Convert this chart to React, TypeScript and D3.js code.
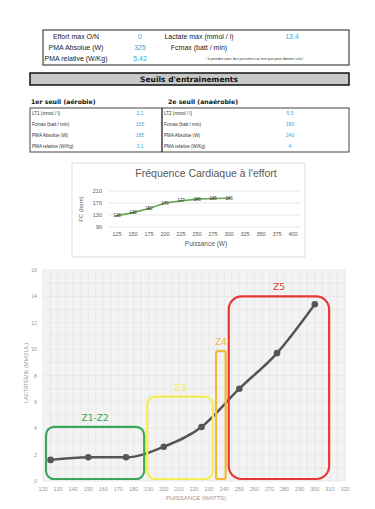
import React, { useEffect, useRef } from 'react'
import * as d3 from 'd3'

// --- summary table
const summaryLeft = ['Effort max O/N', 'PMA Absolue (W)', 'PMA relative (W/Kg)']
const summaryLeftVals = ['0', '325', '5.42']
const summaryRight = ['Lactate max (mmol / l)', 'Fcmax (batt / min)']
const summaryRightVals = ['13.4', '']
const summaryNote = "! à prendre avec des pincettes car test pas pour diminer cela !"

// --- thresholds
const seuil1Labels = ['LT1 (mmol / l)', 'Fcmax (batt / min)', 'PMA Absolue (W)', 'PMA relative (W/Kg)']
const seuil1Vals = ['2.1', '155', '185', '3.1']
const seuil2Labels = ['LT2 (mmol / l)', 'Fcmax (batt / min)', 'PMA Absolue (W)', 'PMA relative (W/Kg)']
const seuil2Vals = ['5.5', '180', '240', '4']

// --- heart rate chart
const hrCategories = ['125', '150', '175', '200', '225', '250', '275', '300', '325', '350', '375', '400']
const hrValues = [128, 138, 152, 170, 177, 183, 185, 186]
const hrTicks = [90, 130, 170, 210]

// --- lactate chart
const lacPower = [125, 150, 175, 200, 225, 250, 275, 300]
const lacValues = [1.6, 1.8, 1.8, 2.6, 4.1, 7.0, 9.7, 13.4]
const lacXTicks = d3.range(120, 321, 10)
const lacYTicks = [0, 2, 4, 6, 8, 10, 12, 14, 16]
const zones = [
  { name: 'Z1-Z2', x0: 122, x1: 187, top: 4.1, color: '#3aa857', r: 8 },
  { name: 'Z3', x0: 189, x1: 232.5, top: 6.4, color: '#f3ee55', r: 8 },
  { name: 'Z4', x0: 234.6, x1: 241, top: 9.85, color: '#f4b935', r: 2 },
  { name: 'Z5', x0: 243, x1: 309.5, top: 14, color: '#e53935', r: 13 },
]

const W = 375
const H = 509
const TF = 'Liberation Sans, Arial, sans-serif'

export default function App() {
  const ref = useRef<SVGSVGElement>(null)

  useEffect(() => {
    const svg = d3.select(ref.current)
    svg.selectAll('*').remove()

    // ---------- summary table
    const top = svg.append('g')
    top.append('rect').attr('x', 43).attr('y', 30).attr('width', 306).attr('height', 35)
      .attr('fill', 'none').attr('stroke', '#444').attr('stroke-width', 1.2)
    const rowY = d3.scalePoint<number>().domain([0, 1, 2]).range([36, 58])
    summaryLeft.forEach((t, i) => {
      top.append('text').attr('x', 76).attr('y', rowY(i)! + 2.5).attr('text-anchor', 'middle')
        .attr('font-family', TF).attr('font-size', 7).attr('fill', '#222').text(t)
      top.append('text').attr('x', 140).attr('y', rowY(i)! + 2.5).attr('text-anchor', 'middle')
        .attr('font-family', TF).attr('font-size', 7).attr('fill', '#3aa7dc').text(summaryLeftVals[i])
    })
    summaryRight.forEach((t, i) => {
      top.append('text').attr('x', 199).attr('y', rowY(i)! + 2.5).attr('text-anchor', 'middle')
        .attr('font-family', TF).attr('font-size', 7).attr('fill', '#222').text(t)
      top.append('text').attr('x', 292).attr('y', rowY(i)! + 2.5).attr('text-anchor', 'middle')
        .attr('font-family', TF).attr('font-size', 7).attr('fill', '#3aa7dc').text(summaryRightVals[i])
    })
    top.append('text').attr('x', 255).attr('y', rowY(2)! + 1.5).attr('text-anchor', 'middle')
      .attr('font-family', TF).attr('font-size', 3.6).attr('fill', '#333').text(summaryNote)

    // ---------- thresholds header
    top.append('rect').attr('x', 30).attr('y', 73).attr('width', 319).attr('height', 12)
      .attr('fill', '#c8c8c8').attr('stroke', '#111').attr('stroke-width', 1.5)
    top.append('text').attr('x', 189).attr('y', 82).attr('text-anchor', 'middle')
      .attr('font-family', 'DejaVu Sans, sans-serif').attr('font-weight', 'bold').attr('font-size', 7.5)
      .attr('fill', '#111').text("Seuils d'entrainements")
    top.append('text').attr('x', 31).attr('y', 104)
      .attr('font-family', 'DejaVu Sans, sans-serif').attr('font-weight', 'bold').attr('font-size', 6.2)
      .attr('fill', '#111').text('1er seuil (aérobie)')
    top.append('text').attr('x', 168).attr('y', 104)
      .attr('font-family', 'DejaVu Sans, sans-serif').attr('font-weight', 'bold').attr('font-size', 6.2)
      .attr('fill', '#111').text('2e seuil (anaérobie)')

    top.append('rect').attr('x', 30).attr('y', 108).attr('width', 319).attr('height', 44)
      .attr('fill', 'none').attr('stroke', '#444').attr('stroke-width', 1)
    top.append('line').attr('x1', 162).attr('x2', 162).attr('y1', 108).attr('y2', 152)
      .attr('stroke', '#222').attr('stroke-width', 1.3)
    const sRow = d3.scalePoint<number>().domain([0, 1, 2, 3]).range([113, 146])
    const drawSeuil = (labels: string[], vals: string[], lx: number, vx: number) => {
      labels.forEach((t, i) => {
        top.append('text').attr('x', lx).attr('y', sRow(i)! + 2).attr('font-family', TF)
          .attr('font-size', 4.6).attr('fill', '#333').text(t)
        top.append('text').attr('x', vx).attr('y', sRow(i)! + 2).attr('text-anchor', 'middle')
          .attr('font-family', TF).attr('font-size', 5).attr('fill', '#3aa7dc').text(vals[i])
      })
    }
    drawSeuil(seuil1Labels, seuil1Vals, 32, 140)
    drawSeuil(seuil2Labels, seuil2Vals, 164, 290)

    // ---------- heart rate chart
    const hr = svg.append('g')
    hr.append('rect').attr('x', 72).attr('y', 163).attr('width', 233).attr('height', 94)
      .attr('fill', '#fff').attr('stroke', '#d9d9d9').attr('stroke-width', 0.8)
    hr.append('text').attr('x', 206).attr('y', 177).attr('text-anchor', 'middle')
      .attr('font-family', TF).attr('font-size', 10.5).attr('fill', '#595959')
      .text("Fréquence Cardiaque à l'effort")
    const hx = d3.scalePoint<string>().domain(hrCategories).range([117, 293])
    const hy = d3.scaleLinear().domain([90, 210]).range([227, 191])
    hrTicks.forEach(t => {
      hr.append('line').attr('x1', 109).attr('x2', 301).attr('y1', hy(t)).attr('y2', hy(t))
        .attr('stroke', '#d9d9d9').attr('stroke-width', 0.6)
      hr.append('text').attr('x', 102).attr('y', hy(t) + 2).attr('text-anchor', 'end')
        .attr('font-family', TF).attr('font-size', 5.5).attr('fill', '#595959').text(t)
    })
    hrCategories.forEach(c => {
      hr.append('text').attr('x', hx(c)!).attr('y', 236).attr('text-anchor', 'middle')
        .attr('font-family', TF).attr('font-size', 5.5).attr('fill', '#595959').text(c)
    })
    hr.append('text').attr('transform', `translate(83,209) rotate(-90)`).attr('text-anchor', 'middle')
      .attr('font-family', TF).attr('font-size', 6).attr('fill', '#595959').text('FC (bpm)')
    hr.append('text').attr('x', 206).attr('y', 246).attr('text-anchor', 'middle')
      .attr('font-family', TF).attr('font-size', 6.5).attr('fill', '#595959').text('Puissance (W)')
    const hrPts = hrValues.map((v, i) => [hx(hrCategories[i])!, hy(v)] as [number, number])
    hr.append('path').attr('d', d3.line()(hrPts)).attr('fill', 'none')
      .attr('stroke', '#6aa84f').attr('stroke-width', 1.6)
    hrPts.forEach(([x, y], i) => {
      hr.append('line').attr('x1', x - 2).attr('x2', x + 2).attr('y1', y).attr('y2', y)
        .attr('stroke', '#2f5e1e').attr('stroke-width', 0.7)
      hr.append('text').attr('x', x).attr('y', y + 1.5).attr('text-anchor', 'middle')
        .attr('font-family', TF).attr('font-size', 4.5).attr('fill', '#404040').text(hrValues[i])
    })

    // ---------- lactate chart
    const lc = svg.append('g')
    const x = d3.scaleLinear().domain([120, 320]).range([43, 345])
    const y = d3.scaleLinear().domain([0, 16]).range([481, 270])
    lc.append('rect').attr('x', x(120)).attr('y', y(16)).attr('width', x(320) - x(120))
      .attr('height', y(0) - y(16)).attr('fill', '#f3f3f3')
    d3.range(120, 321, 5).forEach(v => {
      lc.append('line').attr('x1', x(v)).attr('x2', x(v)).attr('y1', y(0)).attr('y2', y(16))
        .attr('stroke', '#e4e4e4').attr('stroke-width', 0.7)
    })
    d3.range(0, 17, 1).forEach(v => {
      lc.append('line').attr('x1', x(120)).attr('x2', x(320)).attr('y1', y(v)).attr('y2', y(v))
        .attr('stroke', '#e4e4e4').attr('stroke-width', 0.7)
    })
    lacYTicks.forEach(t => {
      lc.append('text').attr('x', 37).attr('y', y(t) + 2).attr('text-anchor', 'end')
        .attr('font-family', TF).attr('font-size', 5.5).attr('fill', '#999').text(t)
    })
    lacXTicks.forEach(t => {
      lc.append('text').attr('x', x(t)).attr('y', 491).attr('text-anchor', 'middle')
        .attr('font-family', TF).attr('font-size', 5.5).attr('fill', '#999').text(t)
    })
    lc.append('text').attr('x', 196).attr('y', 500).attr('text-anchor', 'middle')
      .attr('font-family', TF).attr('font-size', 6).attr('fill', '#999').text('PUISSANCE (WATTS)')
    lc.append('text').attr('transform', `translate(28,373) rotate(-90)`).attr('text-anchor', 'middle')
      .attr('font-family', TF).attr('font-size', 5.5).attr('fill', '#999').text('LACTATÉMIE (MMOL/L)')

    const pts = lacPower.map((p, i) => [x(p), y(lacValues[i])] as [number, number])
    lc.append('path').attr('d', d3.line().curve(d3.curveMonotoneX)(pts)).attr('fill', 'none')
      .attr('stroke', '#555').attr('stroke-width', 2.4)
    pts.forEach(([px, py]) => {
      lc.append('circle').attr('cx', px).attr('cy', py).attr('r', 3.3).attr('fill', '#555')
    })

    zones.forEach(z => {
      lc.append('rect').attr('x', x(z.x0)).attr('y', y(z.top)).attr('width', x(z.x1) - x(z.x0))
        .attr('height', y(0.15) - y(z.top)).attr('rx', z.r).attr('fill', 'none')
        .attr('stroke', z.color).attr('stroke-width', 2.2)
      lc.append('text').attr('x', (x(z.x0) + x(z.x1)) / 2).attr('y', y(z.top) - 6)
        .attr('text-anchor', 'middle').attr('font-family', 'DejaVu Sans, sans-serif')
        .attr('font-size', 9).attr('fill', z.color).text(z.name)
    })
  }, [])

  return (
    <svg ref={ref} width={W} height={H}
      style={{ position: 'absolute', left: 0, top: 0, background: '#fff' }} />
  )
}
